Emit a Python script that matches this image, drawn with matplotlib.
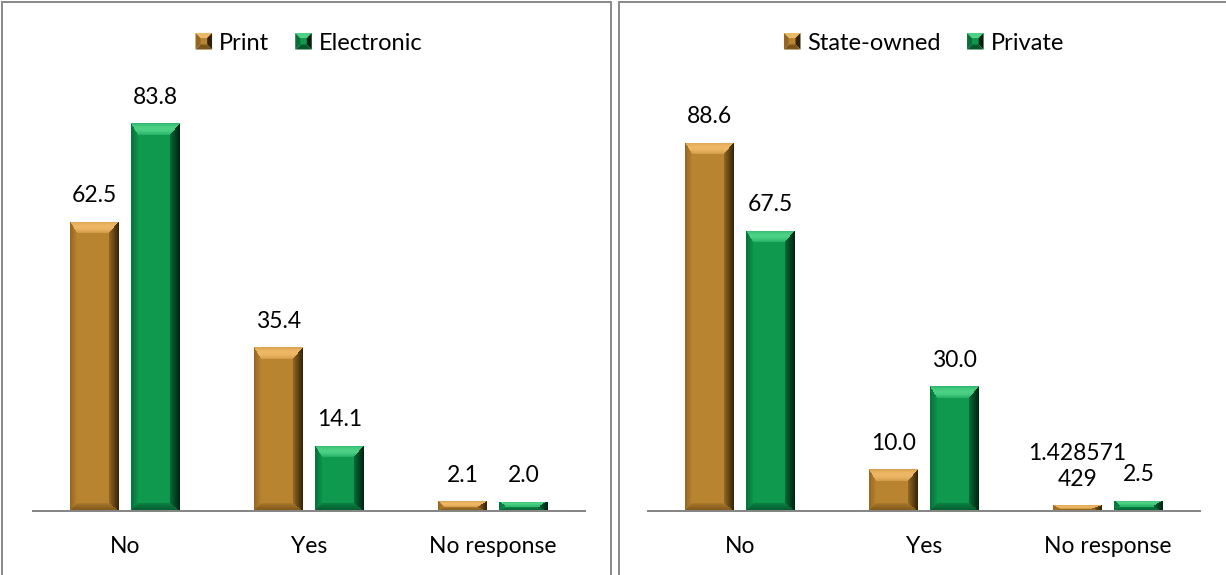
import numpy as np
import matplotlib
matplotlib.use("Agg")
import matplotlib.pyplot as plt
from matplotlib.patches import Polygon
from matplotlib.lines import Line2D
from matplotlib.legend_handler import HandlerBase

# ---- data -------------------------------------------------------------
categories = ["No", "Yes", "No response"]

left_series = ["Print", "Electronic"]
print_vals = [62.5, 35.4, 2.1]
electronic_vals = [83.8, 14.1, 2.0]

right_series = ["State-owned", "Private"]
state_vals = [88.6, 10.0, 1.428571429]
private_vals = [67.5, 30.0, 2.5]
state_labels = ["88.6", "10.0", "1.428571\n429"]

# ---- styling ----------------------------------------------------------
W, H, DPI = 1226, 575, 100
FONT = "Lato"
FS = 16.5
FS_LEG = 17
LABEL_GAP = 14          # points between bar top and label baseline
LINE_PITCH = 18.5       # points between wrapped label lines
plt.rcParams["font.family"] = [FONT, "DejaVu Sans"]

GOLD = dict(
    base=(0.725, 0.518, 0.188),
    top=((0.80, 0.58, 0.25), (0.93, 0.72, 0.40)),
    right=((0.20, 0.13, 0.03), (0.58, 0.41, 0.14)),
    bottom=((0.48, 0.33, 0.10), (0.66, 0.47, 0.17)),
    left=((0.58, 0.40, 0.13), (0.72, 0.51, 0.19)),
)
GREEN = dict(
    base=(0.055, 0.600, 0.310),
    top=((0.10, 0.66, 0.38), (0.30, 0.82, 0.52)),
    right=((0.00, 0.13, 0.06), (0.03, 0.42, 0.21)),
    bottom=((0.02, 0.35, 0.17), (0.04, 0.50, 0.26)),
    left=((0.03, 0.44, 0.22), (0.05, 0.57, 0.30)),
)

BEVEL = dict(top=12.0, right=10.0, bottom=8.0, left=7.0)


def bevel_image(wpx, hpx, pal):
    """RGB array of a bevelled bar face of the given pixel size."""
    w = max(int(round(wpx)), 2)
    h = max(int(round(hpx)), 2)
    bt, bb, bl, br = BEVEL["top"], BEVEL["bottom"], BEVEL["left"], BEVEL["right"]
    if bt + bb > h:
        f = h / (bt + bb)
        bt, bb = bt * f, bb * f
    U, V = np.meshgrid(np.arange(w) + 0.5, np.arange(h) + 0.5)
    dist = np.stack([V / bt, (w - U) / br, (h - V) / bb, U / bl])
    side = np.argmin(dist, axis=0)
    m = np.min(dist, axis=0)
    img = np.empty((h, w, 3))
    img[:] = pal["base"]
    for k, name in enumerate(["top", "right", "bottom", "left"]):
        edge, inner = (np.array(c) for c in pal[name])
        t = np.clip(m, 0, 1)[..., None]
        if name == "top":
            # light band in the middle of the top facet
            prof = np.sin(np.pi * np.clip(t * 0.85 + 0.1, 0, 1))
            col = edge * (1 - prof) + inner * prof
        else:
            col = edge * (1 - t) + inner * t
        sel = (side == k) & (m < 1)
        img[sel] = col[sel]
    return np.clip(img, 0, 1)


def draw_bars(ax, xs, vals, pal):
    bars = ax.bar(xs, vals, width=BAR_W, color=pal["base"], linewidth=0, zorder=2)
    for rect in bars:
        x0, y0 = rect.get_x(), rect.get_y()
        x1, y1 = x0 + rect.get_width(), y0 + rect.get_height()
        p0 = ax.transData.transform((x0, y0))
        p1 = ax.transData.transform((x1, y1))
        img = bevel_image(abs(p1[0] - p0[0]), abs(p1[1] - p0[1]), pal)
        im = ax.imshow(img, extent=(x0, x1, y0, y1), origin="upper",
                       aspect="auto", interpolation="nearest", zorder=3)
        im.set_clip_path(rect)
    return bars


def label_bar(ax, rect, text):
    """Value label above a bar; wrapped labels are stacked line by line."""
    xc = rect.get_x() + rect.get_width() / 2
    lines = text.split("\n")
    for i, line in enumerate(reversed(lines)):
        ax.annotate(line, (xc, rect.get_height()),
                    xytext=(0, LABEL_GAP + i * LINE_PITCH), textcoords="offset points",
                    ha="center", va="baseline", fontsize=FS, color="black", zorder=4)


class BevelHandler(HandlerBase):
    def __init__(self, pal):
        super().__init__()
        self.pal = pal

    def create_artists(self, legend, orig_handle, xdescent, ydescent,
                       width, height, fontsize, trans):
        s = min(width, height * 1.25)
        x0 = -xdescent + (width - s) / 2
        y0 = -ydescent + (height - s) / 2
        b = s * 0.3
        pal = self.pal
        pts = {
            "top": [(x0, y0 + s), (x0 + s, y0 + s), (x0 + s - b, y0 + s - b), (x0 + b, y0 + s - b)],
            "right": [(x0 + s, y0 + s), (x0 + s, y0), (x0 + s - b, y0 + b), (x0 + s - b, y0 + s - b)],
            "bottom": [(x0, y0), (x0 + s, y0), (x0 + s - b, y0 + b), (x0 + b, y0 + b)],
            "left": [(x0, y0), (x0, y0 + s), (x0 + b, y0 + s - b), (x0 + b, y0 + b)],
        }
        cols = {"top": pal["top"][1], "right": pal["right"][0],
                "bottom": pal["bottom"][0], "left": pal["left"][0]}
        arts = [Polygon([(x0 + b, y0 + b), (x0 + s - b, y0 + b),
                         (x0 + s - b, y0 + s - b), (x0 + b, y0 + s - b)],
                        closed=True, fc=pal["base"], ec="none", transform=trans)]
        for k, v in pts.items():
            arts.append(Polygon(v, closed=True, fc=cols[k], ec="none", transform=trans))
        return arts


# ---- layout -----------------------------------------------------------
BAR_W = 49 / 184
OFFSET = 30.5 / 184
AX_Y0 = 511            # pixel row of the category axis
AX_W = 552

fig = plt.figure(figsize=(W / DPI, H / DPI), dpi=DPI)
fig.patch.set_facecolor("white")

# panel frames
frame_kw = dict(color="#8C8C8C", lw=1.44, transform=None, zorder=0)
for xs_, ys_ in [((2, 2), (-10, H - 2)), ((2, 611), (H - 2, H - 2)), ((611, 611), (-10, H - 2)),
                 ((619, 619), (-10, H - 2)), ((619, W + 10), (H - 2, H - 2))]:
    fig.add_artist(Line2D(xs_, ys_, **frame_kw))


def make_panel(left_px, px_per_unit, series, vals_a, vals_b, labels_a, labels_b):
    height_px = 100 * px_per_unit
    ax = fig.add_axes([left_px / W, (H - AX_Y0) / H, AX_W / W, height_px / H])
    ax.set_xlim(-0.5, 2.5)
    ax.set_ylim(0, 100)
    ax.patch.set_alpha(0)
    x = np.arange(len(categories))
    ba = draw_bars(ax, x - OFFSET, vals_a, GOLD)
    bb = draw_bars(ax, x + OFFSET, vals_b, GREEN)
    ax.set_xlim(-0.5, 2.5)
    ax.set_ylim(0, 100)
    for bars, labs in ((ba, labels_a), (bb, labels_b)):
        for rect, lab in zip(bars, labs):
            label_bar(ax, rect, lab)
    for sp in ("top", "left", "right"):
        ax.spines[sp].set_visible(False)
    ax.spines["bottom"].set_color("#868686")
    ax.spines["bottom"].set_linewidth(1.44)
    ax.spines["bottom"].set_zorder(5)
    ax.set_yticks([])
    ax.set_xticks(x, categories)
    ax.tick_params(axis="x", length=0, pad=18, labelsize=FS, colors="black")

    handles = [Polygon([(0, 0)], label=s) for s in series]
    cx = (left_px + AX_W / 2) / W
    ax.legend(handles=handles, loc="center", ncol=2,
              bbox_to_anchor=(cx, 1 - 43 / H), bbox_transform=fig.transFigure,
              frameon=False, fontsize=FS_LEG, handlelength=0.7, handleheight=0.7,
              handletextpad=0.3, columnspacing=1.1, borderpad=0,
              handler_map={handles[0]: BevelHandler(GOLD), handles[1]: BevelHandler(GREEN)})
    return ax


fmt = lambda vs: [f"{v:.1f}" for v in vs]
make_panel(33, 4.625, left_series, print_vals, electronic_vals, fmt(print_vals), fmt(electronic_vals))
make_panel(648, 4.155, right_series, state_vals, private_vals, state_labels, fmt(private_vals))

fig.savefig("out.png", dpi=DPI)
